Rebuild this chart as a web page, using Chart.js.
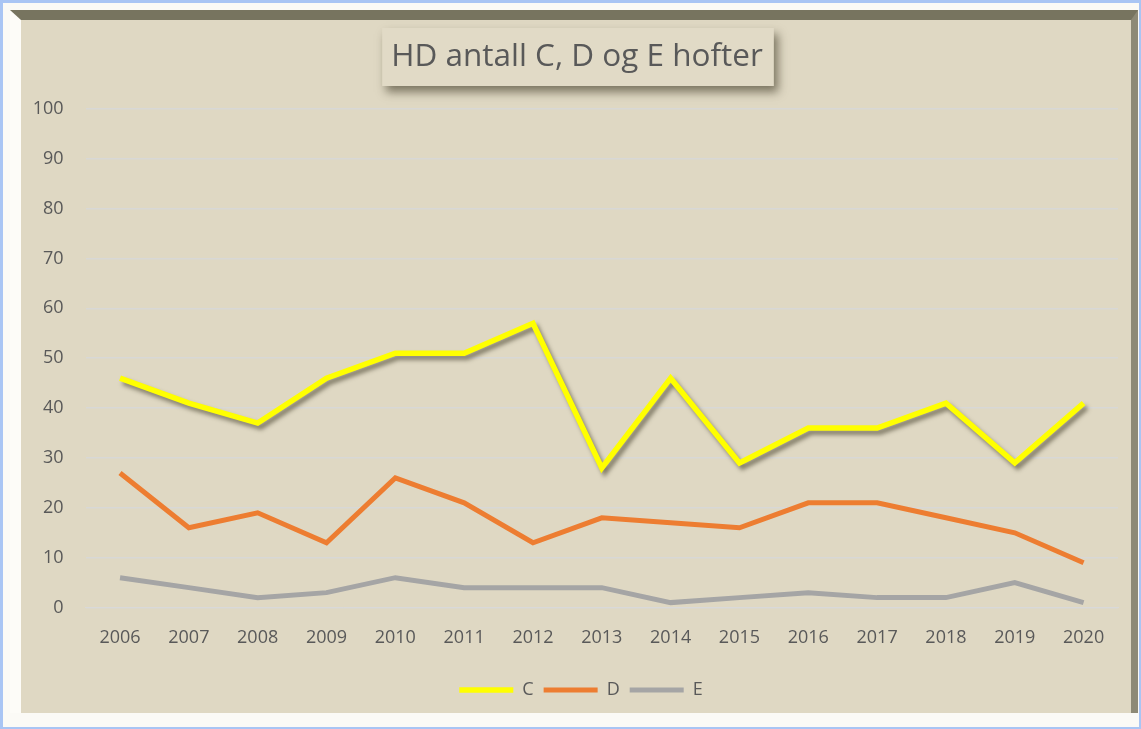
<!DOCTYPE html>
<html>
<head>
<meta charset="utf-8">
<script src="https://cdn.jsdelivr.net/npm/chart.js@4"></script>
<style>
    html, body { margin: 0; padding: 0; background: #fff; }
    #frame {
        position: absolute; left: 0; top: 0; width: 1141px; height: 729px;
        box-sizing: border-box; border: 3px solid #a9c5f4; border-right-width: 2px; border-bottom-width: 2px;
        background: #fbfaf6;
    }
    #panel {
        position: absolute; left: 10px; top: 10px; width: 1128px; height: 703px;
        box-sizing: border-box; background: #dfd8c3;
        border-top: 10px solid #77745f; border-left: 11px solid #fdfcf8; border-right: 7px solid #8e8a76;
    }
    #chartBox { position: absolute; left: 0; top: 0; width: 1141px; height: 729px; }
</style>
</head>
<body>
<div id="frame"></div>
<div id="panel"></div>
<div id="chartBox"><canvas id="hdChart"></canvas></div>
<script>
const years = ['2006', '2007', '2008', '2009', '2010', '2011', '2012', '2013', '2014', '2015', '2016', '2017', '2018', '2019', '2020'];
const seriesC = [46, 41, 37, 46, 51, 51, 57, 28, 46, 29, 36, 36, 41, 29, 41];
const seriesD = [27, 16, 19, 13, 26, 21, 13, 18, 17, 16, 21, 21, 18, 15, 9];
const seriesE = [6, 4, 2, 3, 6, 4, 4, 4, 1, 2, 3, 2, 2, 5, 1];
const yTicks = [0, 10, 20, 30, 40, 50, 60, 70, 80, 90, 100];
const titleText = 'HD antall C, D og E hofter';

const textColor = '#595959';
const fontFamily = '"Open Sans", "Liberation Sans", sans-serif';
const titleSize = 31.5;

// boxed title, slight horizontal nudge of title/legend, drop shadow under the yellow line
const chartDecor = {
    id: 'chartDecor',
    afterLayout(chart) {
        chart.titleBlock.left += 8;
        chart.titleBlock.right += 8;
        chart.legend.left += 12;
        chart.legend.right += 12;
    },
    beforeDraw(chart) {
        const t = chart.titleBlock;
        const ctx = chart.ctx;
        ctx.save();
        ctx.font = titleSize + 'px ' + fontFamily;
        const textW = ctx.measureText(titleText).width;
        const cx = (t.left + t.right) / 2;
        ctx.shadowColor = 'rgba(70,65,45,0.65)';
        ctx.shadowBlur = 9;
        ctx.shadowOffsetX = 4;
        ctx.shadowOffsetY = 6;
        ctx.fillStyle = '#e1dac6';
        ctx.fillRect(cx - textW / 2 - 9, 28, textW + 20, 58);
        ctx.restore();
    },
    beforeDatasetDraw(chart, args) {
        if (args.index !== 0) {
            return;
        }
        const ctx = chart.ctx;
        ctx.save();
        ctx.shadowColor = 'rgba(70,65,45,0.6)';
        ctx.shadowBlur = 4;
        ctx.shadowOffsetX = 3;
        ctx.shadowOffsetY = 4;
    },
    afterDatasetDraw(chart, args) {
        if (args.index === 0) {
            chart.ctx.restore();
        }
    },
};

const makeSet = (label, data, color, width) => ({
    label,
    data,
    borderColor: color,
    backgroundColor: color,
    borderWidth: width,
    pointRadius: 0,
    pointHoverRadius: 0,
    pointStyle: 'line',
    tension: 0,
    fill: false,
    borderJoinStyle: 'miter',
});

new Chart(document.getElementById('hdChart'), {
    type: 'line',
    data: {
        labels: years,
        datasets: [
            makeSet('C', seriesC, '#ffff00', 5.5),
            makeSet('D', seriesD, '#ed7d31', 5),
            makeSet('E', seriesE, '#a5a5a5', 5),
        ],
    },
    options: {
        responsive: true,
        maintainAspectRatio: false,
        animation: false,
        layout: {
            padding: { left: 20, right: 23, top: 0, bottom: 20 },
        },
        scales: {
            x: {
                offset: true,
                grid: { display: false, drawTicks: false },
                border: { display: true, color: '#d9d9d9', width: 1 },
                ticks: {
                    color: textColor,
                    font: { family: fontFamily, size: 18 },
                    padding: 19,
                    maxRotation: 0,
                },
                afterFit(scale) {
                    scale.height = 63.4;
                },
            },
            y: {
                min: 0,
                max: 100,
                afterBuildTicks(scale) {
                    scale.ticks = yTicks.map(v => ({ value: v }));
                },
                grid: { color: '#d8d8d6', lineWidth: 1.5, drawTicks: false },
                border: { display: false },
                ticks: {
                    color: textColor,
                    font: { family: fontFamily, size: 18 },
                    padding: 22,
                },
                afterFit(scale) {
                    scale.width = 65.6;
                },
            },
        },
        plugins: {
            title: {
                display: true,
                text: titleText,
                color: textColor,
                font: { family: fontFamily, size: titleSize, weight: 'normal' },
                padding: { top: 38, bottom: 33 },
            },
            legend: {
                position: 'bottom',
                labels: {
                    usePointStyle: true,
                    pointStyleWidth: 54,
                    color: textColor,
                    font: { family: fontFamily, size: 18 },
                    padding: 10,
                },
            },
            tooltip: { enabled: false },
        },
    },
    plugins: [chartDecor],
});
</script>
</body>
</html>
